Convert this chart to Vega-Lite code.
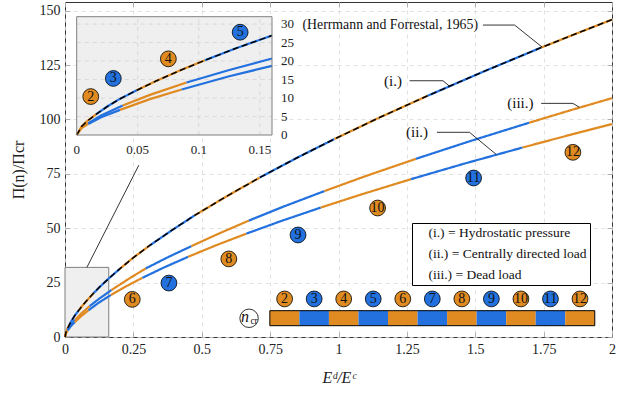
{
  "$schema": "https://vega.github.io/schema/vega-lite/v6.json",
  "width": 547,
  "height": 335,
  "autosize": {"type": "none"},
  "padding": {"left": 65, "top": 2, "right": 10, "bottom": 59},
  "config": {
    "view": {"stroke": "#333333", "strokeWidth": 1},
    "font": "Liberation Serif",
    "axis": {"labelFont": "Liberation Serif", "titleFont": "Liberation Serif", "labelColor": "#222222", "titleColor": "#222222", "titleFontWeight": "normal"},
    "text": {"font": "Liberation Serif"}
  },
  "datasets": {
    "curves": [
      {"c":"i","n":2,"x":0,"y":0},{"c":"i","n":2,"x":0.004,"y":2.3},{"c":"i","n":2,"x":0.008,"y":3.6},{"c":"i","n":2,"x":0.0158,"y":5.6},
      {"c":"i","n":3,"x":0.0158,"y":5.6},{"c":"i","n":3,"x":0.025,"y":7.7},{"c":"i","n":3,"x":0.035,"y":9.7},{"c":"i","n":3,"x":0.0492,"y":12.1},
      {"c":"i","n":4,"x":0.0492,"y":12.1},{"c":"i","n":4,"x":0.065,"y":14.6},{"c":"i","n":4,"x":0.085,"y":17.5},{"c":"i","n":4,"x":0.105,"y":20.2},
      {"c":"i","n":5,"x":0.105,"y":20.2},{"c":"i","n":5,"x":0.13,"y":23.4},{"c":"i","n":5,"x":0.16,"y":26.9},{"c":"i","n":5,"x":0.2,"y":31.3},
      {"c":"i","n":6,"x":0.2,"y":31.3},{"c":"i","n":6,"x":0.25,"y":36.5},{"c":"i","n":6,"x":0.31,"y":42.1},
      {"c":"i","n":7,"x":0.31,"y":42.1},{"c":"i","n":7,"x":0.39,"y":49.0},{"c":"i","n":7,"x":0.474,"y":55.9},
      {"c":"i","n":8,"x":0.474,"y":55.9},{"c":"i","n":8,"x":0.59,"y":64.6},{"c":"i","n":8,"x":0.712,"y":73.3},
      {"c":"i","n":9,"x":0.712,"y":73.3},{"c":"i","n":9,"x":0.85,"y":82.5},{"c":"i","n":9,"x":0.985,"y":91.0},
      {"c":"i","n":10,"x":0.985,"y":91.0},{"c":"i","n":10,"x":1.15,"y":100.9},{"c":"i","n":10,"x":1.326,"y":110.9},
      {"c":"i","n":11,"x":1.326,"y":110.9},{"c":"i","n":11,"x":1.53,"y":122.0},{"c":"i","n":11,"x":1.74,"y":133.0},
      {"c":"i","n":12,"x":1.74,"y":133.0},{"c":"i","n":12,"x":1.87,"y":139.5},{"c":"i","n":12,"x":2,"y":145.9},

      {"c":"iii","n":2,"x":0,"y":0},{"c":"iii","n":2,"x":0.004,"y":2.0},{"c":"iii","n":2,"x":0.0095,"y":3.2},
      {"c":"iii","n":3,"x":0.0095,"y":3.2},{"c":"iii","n":3,"x":0.02,"y":5.3},{"c":"iii","n":3,"x":0.0377,"y":8.0},
      {"c":"iii","n":4,"x":0.0377,"y":8.0},{"c":"iii","n":4,"x":0.06,"y":10.85},{"c":"iii","n":4,"x":0.09,"y":14.2},
      {"c":"iii","n":5,"x":0.09,"y":14.2},{"c":"iii","n":5,"x":0.125,"y":17.6},{"c":"iii","n":5,"x":0.16,"y":20.7},{"c":"iii","n":5,"x":0.17,"y":21.6},
      {"c":"iii","n":6,"x":0.17,"y":21.6},{"c":"iii","n":6,"x":0.23,"y":26.5},{"c":"iii","n":6,"x":0.295,"y":31.5},
      {"c":"iii","n":7,"x":0.295,"y":31.5},{"c":"iii","n":7,"x":0.375,"y":36.6},{"c":"iii","n":7,"x":0.462,"y":41.75},
      {"c":"iii","n":8,"x":0.462,"y":41.75},{"c":"iii","n":8,"x":0.56,"y":47.4},{"c":"iii","n":8,"x":0.672,"y":53.5},
      {"c":"iii","n":9,"x":0.672,"y":53.5},{"c":"iii","n":9,"x":0.8,"y":60.0},{"c":"iii","n":9,"x":0.949,"y":67.1},
      {"c":"iii","n":10,"x":0.949,"y":67.1},{"c":"iii","n":10,"x":1.1,"y":74.0},{"c":"iii","n":10,"x":1.283,"y":81.9},
      {"c":"iii","n":11,"x":1.283,"y":81.9},{"c":"iii","n":11,"x":1.48,"y":90.0},{"c":"iii","n":11,"x":1.697,"y":98.5},
      {"c":"iii","n":12,"x":1.697,"y":98.5},{"c":"iii","n":12,"x":1.85,"y":104.3},{"c":"iii","n":12,"x":2,"y":109.8},

      {"c":"ii","n":2,"x":0,"y":0},{"c":"ii","n":2,"x":0.004,"y":1.9},{"c":"ii","n":2,"x":0.0095,"y":3.0},
      {"c":"ii","n":3,"x":0.0095,"y":3.0},{"c":"ii","n":3,"x":0.02,"y":4.8},{"c":"ii","n":3,"x":0.0355,"y":6.8},
      {"c":"ii","n":4,"x":0.0355,"y":6.8},{"c":"ii","n":4,"x":0.06,"y":9.7},{"c":"ii","n":4,"x":0.086,"y":12.3},
      {"c":"ii","n":5,"x":0.086,"y":12.3},{"c":"ii","n":5,"x":0.125,"y":15.9},{"c":"ii","n":5,"x":0.16,"y":18.7},{"c":"ii","n":5,"x":0.168,"y":19.3},
      {"c":"ii","n":6,"x":0.168,"y":19.3},{"c":"ii","n":6,"x":0.225,"y":23.4},{"c":"ii","n":6,"x":0.283,"y":27.2},
      {"c":"ii","n":7,"x":0.283,"y":27.2},{"c":"ii","n":7,"x":0.36,"y":31.85},{"c":"ii","n":7,"x":0.45,"y":36.85},
      {"c":"ii","n":8,"x":0.45,"y":36.85},{"c":"ii","n":8,"x":0.55,"y":42.05},{"c":"ii","n":8,"x":0.663,"y":47.5},
      {"c":"ii","n":9,"x":0.663,"y":47.5},{"c":"ii","n":9,"x":0.79,"y":53.3},{"c":"ii","n":9,"x":0.935,"y":59.5},
      {"c":"ii","n":10,"x":0.935,"y":59.5},{"c":"ii","n":10,"x":1.09,"y":65.8},{"c":"ii","n":10,"x":1.265,"y":72.55},
      {"c":"ii","n":11,"x":1.265,"y":72.55},{"c":"ii","n":11,"x":1.46,"y":79.7},{"c":"ii","n":11,"x":1.673,"y":87.1},
      {"c":"ii","n":12,"x":1.673,"y":87.1},{"c":"ii","n":12,"x":1.84,"y":92.7},{"c":"ii","n":12,"x":2,"y":97.9}
    ],
    "circles": [
      {"n":6,"x":0.246,"y":17.3},{"n":7,"x":0.38,"y":24.8},{"n":8,"x":0.599,"y":35.9},{"n":9,"x":0.852,"y":46.9},
      {"n":10,"x":1.143,"y":59.3},{"n":11,"x":1.494,"y":73.1},{"n":12,"x":1.857,"y":84.9}
    ],
    "insetCircles": [
      {"n":2,"x":0.0115,"y":10.4},{"n":3,"x":0.03,"y":15.3},{"n":4,"x":0.0751,"y":20.6},{"n":5,"x":0.1339,"y":27.8}
    ],
    "bar": [
      {"n":2,"x0":0.749,"x1":0.857,"xc":0.803},{"n":3,"x0":0.857,"x1":0.965,"xc":0.911},
      {"n":4,"x0":0.965,"x1":1.073,"xc":1.019},{"n":5,"x0":1.073,"x1":1.181,"xc":1.127},
      {"n":6,"x0":1.181,"x1":1.289,"xc":1.235},{"n":7,"x0":1.289,"x1":1.397,"xc":1.343},
      {"n":8,"x0":1.397,"x1":1.505,"xc":1.451},{"n":9,"x0":1.505,"x1":1.613,"xc":1.559},
      {"n":10,"x0":1.613,"x1":1.721,"xc":1.667},{"n":11,"x0":1.721,"x1":1.829,"xc":1.775},
      {"n":12,"x0":1.829,"x1":1.937,"xc":1.883}
    ],
    "labels": [
      {"t":"(i.)","x":1.199,"y":117.8},{"t":"(ii.)","x":1.287,"y":94.1},{"t":"(iii.)","x":1.665,"y":107.4}
    ],
    "leaders": [
      {"id":"h","k":0,"x":1.528,"y":143.4},{"id":"h","k":1,"x":1.644,"y":143.4},{"id":"h","k":2,"x":1.745,"y":133.2},
      {"id":"i","k":0,"x":1.26,"y":117.8},{"id":"i","k":1,"x":1.382,"y":117.8},{"id":"i","k":2,"x":1.406,"y":115.3},
      {"id":"ii","k":0,"x":1.36,"y":94.1},{"id":"ii","k":1,"x":1.479,"y":94.1},{"id":"ii","k":2,"x":1.577,"y":83.9},
      {"id":"iii","k":0,"x":1.741,"y":107.4},{"id":"iii","k":1,"x":1.857,"y":107.4},{"id":"iii","k":2,"x":1.881,"y":105.6}
    ],
    "insetTicksX": [{"v": 0}, {"v": 0.05}, {"v": 0.1}, {"v": 0.15}],
    "insetTicksY": [{"v": 0}, {"v": 5}, {"v": 10}, {"v": 15}, {"v": 20}, {"v": 25}, {"v": 30}]
  },
  "layer": [
    {
      "layer": [
        {
          "data": {"values": [{"x0":0,"x1":0.16,"y0":0,"y1":32}]},
          "mark": {"type": "rect", "fill": "#efefef", "stroke": "#7f7f7f", "strokeWidth": 1},
          "encoding": {
            "x": {"field": "x0", "type": "quantitative", "scale": {"domain": [0, 2], "nice": false, "zero": false},
              "axis": {"orient": "bottom", "values": [0,0.25,0.5,0.75,1,1.25,1.5,1.75,2], "format": ".3~g", "grid": true, "gridDash": [4,4], "gridColor": "#d9d9d9", "gridWidth": 0.8, "domain": false, "tickSize": -5, "tickColor": "#a0a0a0", "tickWidth": 0.8, "labelPadding": 10, "labelFlush": false, "labelFontSize": 14, "labelOverlap": false, "title": "Eᵈ/Eᶜ", "titleFontSize": 16, "titleFontStyle": "italic", "titlePadding": 13}},
            "x2": {"field": "x1"},
            "y": {"field": "y0", "type": "quantitative", "scale": {"domain": [0, 154], "nice": false, "zero": false},
              "axis": {"orient": "left", "values": [0,25,50,75,100,125,150], "grid": true, "gridDash": [4,4], "gridColor": "#d9d9d9", "gridWidth": 0.8, "domain": false, "tickSize": -5, "tickColor": "#a0a0a0", "tickWidth": 0.8, "labelPadding": 10, "labelFontSize": 14, "labelOverlap": false, "title": "Π(n)/Πcr", "titleFontSize": 16, "titlePadding": 13}},
            "y2": {"field": "y1"}
          }
        },
        {
          "data": {"values": [{"x":0.08,"y":32},{"x":0.27,"y":79}]},
          "mark": {"type": "line", "color": "black", "strokeWidth": 0.8},
          "encoding": {
            "x": {"field": "x", "type": "quantitative", "axis": {"orient": "top", "values": [0,0.25,0.5,0.75,1,1.25,1.5,1.75,2], "labels": false, "grid": false, "domain": false, "tickSize": -5, "tickColor": "#a0a0a0", "tickWidth": 0.8, "title": null}},
            "y": {"field": "y", "type": "quantitative", "axis": {"orient": "right", "values": [0,25,50,75,100,125,150], "labels": false, "grid": false, "domain": false, "tickSize": -5, "tickColor": "#a0a0a0", "tickWidth": 0.8, "title": null}}
          }
        },
        {
          "data": {"name": "curves"},
          "mark": {"type": "line", "strokeWidth": 2.2},
          "encoding": {
            "x": {"field": "x", "type": "quantitative", "axis": null},
            "y": {"field": "y", "type": "quantitative", "axis": null},
            "color": {"field": "n", "type": "ordinal", "scale": {"domain": [2,3,4,5,6,7,8,9,10,11,12], "range": ["#E08B22","#2271DE","#E08B22","#2271DE","#E08B22","#2271DE","#E08B22","#2271DE","#E08B22","#2271DE","#E08B22"]}, "legend": null},
            "detail": {"field": "c"},
            "strokeDash": {"field": "c", "type": "nominal", "scale": {"domain": ["i","ii","iii"], "range": [[1,0],[1,0],[1,0]]},
              "legend": {"orient": "none", "legendX": 347, "legendY": 221, "title": null, "strokeColor": "black", "fillColor": "white", "padding": 3, "symbolSize": 0, "symbolStrokeWidth": 0, "symbolOpacity": 0, "labelOffset": 0, "labelFont": "Liberation Serif", "labelFontSize": 13.5, "labelColor": "#111111", "labelLimit": 400, "rowPadding": 6, "cornerRadius": 0,
                "labelExpr": "datum.label == 'i' ? '(i.) = Hydrostatic pressure' : datum.label == 'ii' ? '(ii.) = Centrally directed load' : '(iii.) = Dead load'"}}
          }
        },
        {
          "data": {"name": "curves"},
          "transform": [{"filter": "datum.c == 'i'"}],
          "mark": {"type": "line", "color": "black", "strokeWidth": 1.5, "strokeDash": [6, 3.5]},
          "encoding": {
            "x": {"field": "x", "type": "quantitative", "axis": null},
            "y": {"field": "y", "type": "quantitative", "axis": null}
          }
        },
        {
          "data": {"name": "leaders"},
          "mark": {"type": "line", "color": "black", "strokeWidth": 0.8},
          "encoding": {
            "x": {"field": "x", "type": "quantitative", "axis": null},
            "y": {"field": "y", "type": "quantitative", "axis": null},
            "detail": {"field": "id"},
            "order": {"field": "k"}
          }
        },
        {
          "data": {"name": "labels"},
          "mark": {"type": "text", "fontSize": 15, "align": "center", "baseline": "middle", "color": "#111111"},
          "encoding": {
            "x": {"field": "x", "type": "quantitative", "axis": null},
            "y": {"field": "y", "type": "quantitative", "axis": null},
            "text": {"field": "t"}
          }
        },
        {
          "data": {"values": [{"t": "(Herrmann and Forrestal, 1965)", "x": 1.51, "y": 143.4}]},
          "mark": {"type": "text", "fontSize": 13.8, "align": "right", "baseline": "middle", "color": "#111111"},
          "encoding": {
            "x": {"field": "x", "type": "quantitative", "axis": null},
            "y": {"field": "y", "type": "quantitative", "axis": null},
            "text": {"field": "t"}
          }
        },
        {
          "data": {"name": "circles"},
          "mark": {"type": "point", "shape": "circle", "filled": true, "size": 250, "stroke": "black", "strokeWidth": 0.8, "opacity": 1},
          "encoding": {
            "x": {"field": "x", "type": "quantitative", "axis": null},
            "y": {"field": "y", "type": "quantitative", "axis": null},
            "color": {"field": "n", "type": "ordinal", "legend": null}
          }
        },
        {
          "data": {"name": "circles"},
          "mark": {"type": "text", "fontSize": 14, "align": "center", "baseline": "middle", "color": "#111111"},
          "encoding": {
            "x": {"field": "x", "type": "quantitative", "axis": null},
            "y": {"field": "y", "type": "quantitative", "axis": null},
            "text": {"field": "n", "type": "nominal"}
          }
        },
        {
          "data": {"name": "bar"},
          "mark": {"type": "rect"},
          "encoding": {
            "x": {"field": "x0", "type": "quantitative", "axis": null},
            "x2": {"field": "x1"},
            "y": {"datum": 5.2, "type": "quantitative", "axis": null},
            "y2": {"datum": 12.1},
            "color": {"field": "n", "type": "ordinal", "legend": null}
          }
        },
        {
          "data": {"values": [{"x0": 0.749, "x1": 1.937}]},
          "mark": {"type": "rect", "fill": null, "fillOpacity": 0, "stroke": "black", "strokeWidth": 1},
          "encoding": {
            "x": {"field": "x0", "type": "quantitative", "axis": null},
            "x2": {"field": "x1"},
            "y": {"datum": 5.2, "type": "quantitative", "axis": null},
            "y2": {"datum": 12.1}
          }
        },
        {
          "data": {"name": "bar"},
          "mark": {"type": "point", "shape": "circle", "filled": true, "size": 250, "stroke": "black", "strokeWidth": 0.8, "opacity": 1},
          "encoding": {
            "x": {"field": "xc", "type": "quantitative", "axis": null},
            "y": {"datum": 17.5, "type": "quantitative", "axis": null},
            "color": {"field": "n", "type": "ordinal", "legend": null}
          }
        },
        {
          "data": {"name": "bar"},
          "mark": {"type": "text", "fontSize": 14, "align": "center", "baseline": "middle", "color": "#111111"},
          "encoding": {
            "x": {"field": "xc", "type": "quantitative", "axis": null},
            "y": {"datum": 17.5, "type": "quantitative", "axis": null},
            "text": {"field": "n", "type": "nominal"}
          }
        },
        {
          "data": {"values": [{"x": 0.673, "y": 8.6}]},
          "mark": {"type": "point", "shape": "circle", "filled": true, "fill": "white", "size": 340, "stroke": "black", "strokeWidth": 0.8, "opacity": 1},
          "encoding": {
            "x": {"field": "x", "type": "quantitative", "axis": null},
            "y": {"field": "y", "type": "quantitative", "axis": null}
          }
        },
        {
          "data": {"values": [{"x": 0.673, "y": 8.6, "t": "n"}]},
          "mark": {"type": "text", "fontSize": 16, "fontStyle": "italic", "align": "center", "baseline": "middle", "dx": -4, "dy": -1, "color": "#111111"},
          "encoding": {
            "x": {"field": "x", "type": "quantitative", "axis": null},
            "y": {"field": "y", "type": "quantitative", "axis": null},
            "text": {"field": "t"}
          }
        },
        {
          "data": {"values": [{"x": 0.673, "y": 8.6, "t": "cr"}]},
          "mark": {"type": "text", "fontSize": 9.5, "align": "center", "baseline": "middle", "dx": 5, "dy": 3, "color": "#111111"},
          "encoding": {
            "x": {"field": "x", "type": "quantitative", "axis": null},
            "y": {"field": "y", "type": "quantitative", "axis": null},
            "text": {"field": "t"}
          }
        }
      ],
      "resolve": {"axis": {"x": "independent", "y": "independent"}}
    },
    {
      "layer": [
        {
          "data": {"values": [{"x0":0,"x1":0.16,"y0":0,"y1":32}]},
          "mark": {"type": "rect", "fill": "#efefef", "stroke": null},
          "encoding": {
            "x": {"field": "x0", "type": "quantitative", "scale": {"domain": [0, 0.16], "range": [11.7, 207], "nice": false, "zero": false}, "axis": null},
            "x2": {"field": "x1"},
            "y": {"field": "y0", "type": "quantitative", "scale": {"domain": [0, 32], "range": [133, 14.7], "nice": false, "zero": false}, "axis": null},
            "y2": {"field": "y1"}
          }
        },
        {
          "data": {"values": [{"v": 0.05}, {"v": 0.1}, {"v": 0.15}]},
          "mark": {"type": "rule", "color": "#d2d2d2", "strokeWidth": 0.8, "strokeDash": [4, 4]},
          "encoding": {
            "x": {"field": "v", "type": "quantitative", "axis": null},
            "y": {"datum": 0, "type": "quantitative", "axis": null},
            "y2": {"datum": 32}
          }
        },
        {
          "data": {"values": [{"v": 5}, {"v": 10}, {"v": 15}, {"v": 20}, {"v": 25}, {"v": 30}]},
          "mark": {"type": "rule", "color": "#d2d2d2", "strokeWidth": 0.8, "strokeDash": [4, 4]},
          "encoding": {
            "y": {"field": "v", "type": "quantitative", "axis": null},
            "x": {"datum": 0, "type": "quantitative", "axis": null},
            "x2": {"datum": 0.16}
          }
        },
        {
          "data": {"name": "insetTicksX"},
          "mark": {"type": "text", "fontSize": 13, "align": "center", "baseline": "middle", "dy": 15, "color": "#222222"},
          "encoding": {
            "x": {"field": "v", "type": "quantitative", "axis": null},
            "y": {"datum": 0, "type": "quantitative", "axis": null},
            "text": {"field": "v", "type": "quantitative", "format": ".3~g"}
          }
        },
        {
          "data": {"name": "insetTicksY"},
          "mark": {"type": "text", "fontSize": 13, "align": "left", "baseline": "middle", "dx": 9, "color": "#222222"},
          "encoding": {
            "y": {"field": "v", "type": "quantitative", "axis": null},
            "x": {"datum": 0.16, "type": "quantitative", "axis": null},
            "text": {"field": "v", "type": "quantitative", "format": ".3~g"}
          }
        },
        {
          "data": {"name": "curves"},
          "transform": [{"filter": "datum.x <= 0.16"}],
          "mark": {"type": "line", "strokeWidth": 2.2},
          "encoding": {
            "x": {"field": "x", "type": "quantitative", "axis": null},
            "y": {"field": "y", "type": "quantitative", "axis": null},
            "color": {"field": "n", "type": "ordinal", "legend": null},
            "detail": {"field": "c"}
          }
        },
        {
          "data": {"name": "curves"},
          "transform": [{"filter": "datum.c == 'i' && datum.x <= 0.16"}],
          "mark": {"type": "line", "color": "black", "strokeWidth": 1.5, "strokeDash": [6, 3.5]},
          "encoding": {
            "x": {"field": "x", "type": "quantitative", "axis": null},
            "y": {"field": "y", "type": "quantitative", "axis": null}
          }
        },
        {
          "data": {"name": "insetCircles"},
          "mark": {"type": "point", "shape": "circle", "filled": true, "size": 250, "stroke": "black", "strokeWidth": 0.8, "opacity": 1},
          "encoding": {
            "x": {"field": "x", "type": "quantitative", "axis": null},
            "y": {"field": "y", "type": "quantitative", "axis": null},
            "color": {"field": "n", "type": "ordinal", "legend": null}
          }
        },
        {
          "data": {"name": "insetCircles"},
          "mark": {"type": "text", "fontSize": 14, "align": "center", "baseline": "middle", "color": "#111111"},
          "encoding": {
            "x": {"field": "x", "type": "quantitative", "axis": null},
            "y": {"field": "y", "type": "quantitative", "axis": null},
            "text": {"field": "n", "type": "nominal"}
          }
        },
        {
          "data": {"values": [{"x0":0,"x1":0.16,"y0":0,"y1":32}]},
          "mark": {"type": "rect", "fill": null, "fillOpacity": 0, "stroke": "#7f7f7f", "strokeWidth": 1},
          "encoding": {
            "x": {"field": "x0", "type": "quantitative", "axis": null},
            "x2": {"field": "x1"},
            "y": {"field": "y0", "type": "quantitative", "axis": null},
            "y2": {"field": "y1"}
          }
        }
      ]
    }
  ],
  "resolve": {"scale": {"x": "independent", "y": "independent"}}
}
